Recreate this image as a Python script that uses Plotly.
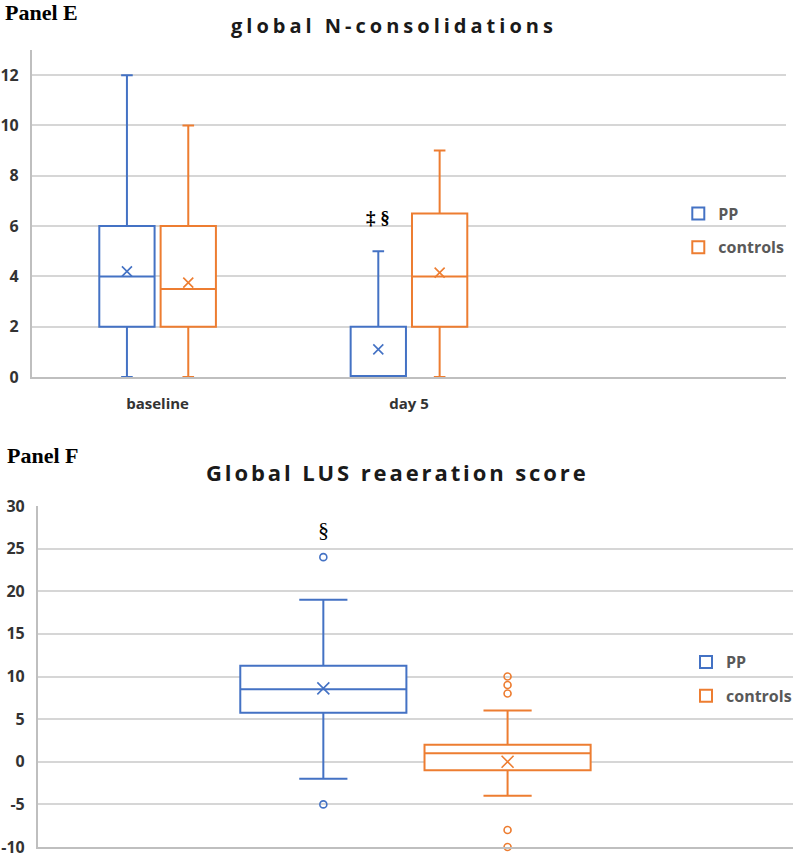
import plotly.graph_objects as go

# ---------------- Panel E : global N-consolidations ----------------
CATS_E = ["baseline", "day 5"]
PP_E_LOW = [0, 0]
PP_E_Q1 = [2, 0]
PP_E_MED = [4, 0]
PP_E_Q3 = [6, 2]
PP_E_HIGH = [12, 5]
PP_E_MEAN = [4.2, 1.1]

CT_E_LOW = [0, 0]
CT_E_Q1 = [2, 2]
CT_E_MED = [3.5, 4]
CT_E_Q3 = [6, 6.5]
CT_E_HIGH = [10, 9]
CT_E_MEAN = [3.75, 4.15]

Y_TICKS_E = [0, 2, 4, 6, 8, 10, 12]

# ---------------- Panel F : Global LUS reaeration score ----------------
CATS_F = ["all"]
PP_F_LOW = [-2]
PP_F_Q1 = [5.75]
PP_F_MED = [8.5]
PP_F_Q3 = [11.25]
PP_F_HIGH = [19]
PP_F_MEAN = [8.6]
PP_F_OUTLIERS = [24, -5]

CT_F_LOW = [-4]
CT_F_Q1 = [-1]
CT_F_MED = [1]
CT_F_Q3 = [2]
CT_F_HIGH = [6]
CT_F_MEAN = [0]
CT_F_OUTLIERS = [10, 9, 8, -8, -10]

Y_TICKS_F = [-10, -5, 0, 5, 10, 15, 20, 25, 30]

SERIES = ["PP", "controls"]
BLUE = "#4472C4"
ORANGE = "#ED7D31"
OFF = 0.122
BOXW = 0.22

pp_x_e = [i - OFF for i in range(len(CATS_E))]
ct_x_e = [i + OFF for i in range(len(CATS_E))]
pp_x_f = [i - OFF for i in range(len(CATS_F))]
ct_x_f = [i + OFF for i in range(len(CATS_F))]

fig = go.Figure()


def add_box(x, low, q1, med, q3, high, color, name, xa, ya, legend, showlegend, ww):
    fig.add_trace(go.Box(
        x=x, lowerfence=low, q1=q1, median=med, q3=q3, upperfence=high,
        width=BOXW, whiskerwidth=ww, boxpoints=False,
        line=dict(color=color, width=2), fillcolor="white",
        name=name, legendgroup=name + legend, showlegend=showlegend,
        legend=legend, xaxis=xa, yaxis=ya, hoverinfo="skip",
    ))


def add_pts(x, y, color, symbol, size, xa, ya):
    fig.add_trace(go.Scatter(
        x=x, y=y, mode="markers", showlegend=False, cliponaxis=False,
        marker=dict(symbol=symbol, size=size, color=color,
                    line=dict(color=color, width=1.6)),
        xaxis=xa, yaxis=ya, hoverinfo="skip",
    ))


# Panel E boxes
add_box(pp_x_e, PP_E_LOW, PP_E_Q1, PP_E_MED, PP_E_Q3, PP_E_HIGH, BLUE, SERIES[0], "x", "y", "legend", True, 0.21)
add_box(ct_x_e, CT_E_LOW, CT_E_Q1, CT_E_MED, CT_E_Q3, CT_E_HIGH, ORANGE, SERIES[1], "x", "y", "legend", True, 0.21)
add_pts(pp_x_e, PP_E_MEAN, BLUE, "x-thin", 10, "x", "y")
add_pts(ct_x_e, CT_E_MEAN, ORANGE, "x-thin", 10, "x", "y")

# Panel F boxes
add_box(pp_x_f, PP_F_LOW, PP_F_Q1, PP_F_MED, PP_F_Q3, PP_F_HIGH, BLUE, SERIES[0], "x2", "y2", "legend2", True, 0.29)
add_box(ct_x_f, CT_F_LOW, CT_F_Q1, CT_F_MED, CT_F_Q3, CT_F_HIGH, ORANGE, SERIES[1], "x2", "y2", "legend2", True, 0.29)
add_pts(pp_x_f, PP_F_MEAN, BLUE, "x-thin", 12, "x2", "y2")
add_pts(ct_x_f, CT_F_MEAN, ORANGE, "x-thin", 12, "x2", "y2")
add_pts(pp_x_f * len(PP_F_OUTLIERS), PP_F_OUTLIERS, BLUE, "circle-open", 7, "x2", "y2")
add_pts(ct_x_f * len(CT_F_OUTLIERS), CT_F_OUTLIERS, ORANGE, "circle-open", 7, "x2", "y2")

W, H = 797, 859
GRID = "#d6d6d6"
AXL = "#bfbfbf"
TICKFONT = dict(family="Open Sans", size=16, color="#333333", weight="bold")

axis_common = dict(showgrid=False, zeroline=False, showline=True, linecolor=AXL,
                   linewidth=2, ticks="", automargin=False, fixedrange=True,
                   ticklabeloverflow="allow")

legend_common = dict(
    font=dict(family="Open Sans", size=16, color="#595959", weight="bold"),
    bgcolor="rgba(0,0,0,0)", borderwidth=0, traceorder="grouped",
    tracegroupgap=10, xanchor="left", yanchor="middle", itemclick=False,
)

fig.update_layout(
    width=W, height=H,
    margin=dict(l=0, r=0, t=0, b=0),
    paper_bgcolor="white", plot_bgcolor="white",
    template="none",
    showlegend=True,
    xaxis=dict(domain=[32 / W, 788 / W], range=[-0.5, 2.5],
               tickvals=list(range(len(CATS_E))), ticktext=CATS_E,
               tickfont=dict(family="Open Sans", size=15, color="#333333", weight="bold"),
               ticklabelstandoff=12, anchor="y", **axis_common),
    yaxis=dict(domain=[1 - 377 / H, 1 - 50 / H], range=[0, 13],
               tickvals=Y_TICKS_E, ticktext=[str(v) for v in Y_TICKS_E],
               showgrid=True, gridcolor=GRID, gridwidth=1.5,
               tickfont=TICKFONT, ticklabelstandoff=8, anchor="x",
               **{k: v for k, v in axis_common.items() if k != "showgrid"}),
    xaxis2=dict(domain=[38 / W, 795 / W], range=[-0.5, 0.5],
                tickvals=list(range(len(CATS_F))), showticklabels=False,
                anchor="y2", **axis_common),
    yaxis2=dict(domain=[1 - 847 / H, 1 - 506 / H], range=[-10, 30],
                tickvals=Y_TICKS_F, ticktext=[str(v) for v in Y_TICKS_F],
                showgrid=True, gridcolor=GRID, gridwidth=1.5,
                tickfont=TICKFONT, ticklabelstandoff=8, anchor="x2",
                **{k: v for k, v in axis_common.items() if k != "showgrid"}),
    legend=dict(x=680 / W, y=1 - 230.5 / H, **legend_common),
    legend2=dict(x=688 / W, y=1 - 679 / H, **legend_common),
)

annotations = [
    dict(text="<b>Panel E</b>", x=3 / W, y=1 - 12 / H, xanchor="left", yanchor="middle",
         font=dict(family="Liberation Serif", size=22, color="black")),
    dict(text="<b>Panel F</b>", x=5 / W, y=1 - 455 / H, xanchor="left", yanchor="middle",
         font=dict(family="Liberation Serif", size=22, color="black")),
    dict(text="<span style='letter-spacing:4px'>global N-consolidations</span>",
         x=395 / W, y=1 - 26 / H, xanchor="center", yanchor="middle",
         font=dict(family="Open Sans", size=20, color="#1a1a1a", weight="bold")),
    dict(text="<span style='letter-spacing:2.9px'>Global LUS reaeration score</span>",
         x=398 / W, y=1 - 472 / H, xanchor="center", yanchor="middle",
         font=dict(family="Open Sans", size=22, color="#1a1a1a", weight="bold")),
]
for a in annotations:
    a.update(xref="paper", yref="paper", showarrow=False)

annotations.append(dict(text="<b>‡ §</b>", x=pp_x_e[1], y=6.35, xref="x", yref="y",
                        showarrow=False, xanchor="center", yanchor="middle",
                        font=dict(family="Liberation Serif", size=19, color="black")))
annotations.append(dict(text="§", x=pp_x_f[0], y=27.3, xref="x2", yref="y2",
                        showarrow=False, xanchor="center", yanchor="middle",
                        font=dict(family="Liberation Serif", size=22, color="black")))
fig.update_layout(annotations=annotations)

fig.write_html("out.html", config={"displayModeBar": False},
               post_script="document.body.style.margin='0px';document.body.style.overflow='hidden';")
